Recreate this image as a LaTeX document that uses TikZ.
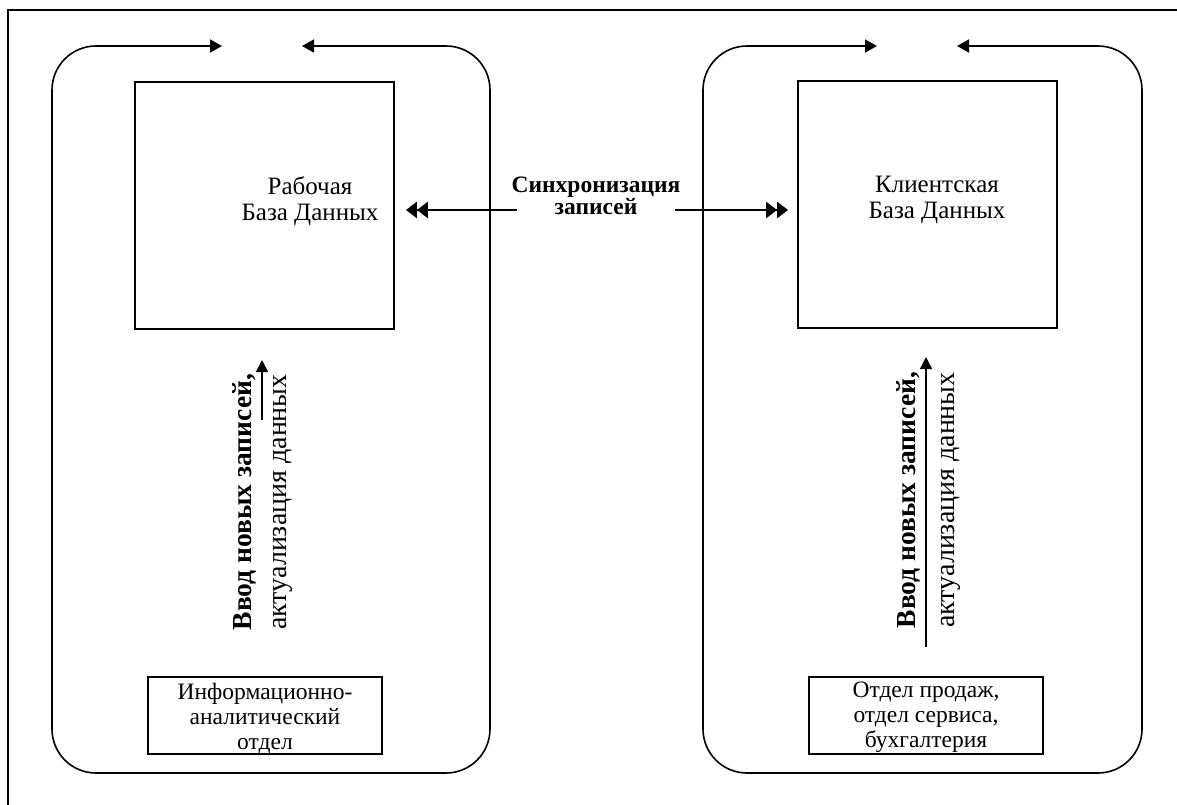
\documentclass[tikz,border=0pt]{standalone}
\usepackage{fontspec}
\setmainfont{Liberation Serif}
\usetikzlibrary{arrows.meta}
\begin{document}
\begin{tikzpicture}[x=1pt,y=-1pt,
  frame/.style={line width=1.6pt},
  loop/.style={line width=1.6pt, rounded corners=44pt,
    {Triangle[length=12pt,width=13pt]}-{Triangle[length=12pt,width=13pt]}},
  dbbox/.style={draw, line width=1.8pt, minimum width=259pt, minimum height=247pt, inner sep=0pt},
  deptbox/.style={draw, line width=1.6pt, minimum width=234pt, minimum height=77pt, inner sep=0pt},
  title/.style={font=\fontsize{25}{26}\selectfont, align=center},
  depttext/.style={font=\fontsize{23.5}{25}\selectfont, align=center},
  synctext/.style={font=\bfseries\fontsize{23.5}{22.5}\selectfont, align=center},
  vtext/.style={rotate=90, font=\fontsize{28}{30}\selectfont, inner sep=0pt},
  vbold/.style={vtext, font=\bfseries\fontsize{27.5}{30}\selectfont},
  syncarrow/.style={line width=2.4pt,
    -{Triangle[length=11pt,width=16pt] Triangle[length=11pt,width=16pt]}},
  uparrow/.style={line width=1.5pt, -{Triangle[length=12pt,width=12pt]}}
]
\useasboundingbox (0,0) rectangle (1177,805);

% page frame (top and left edges)
\draw[frame] (8,805) -- (8,10) -- (1177,10);

% left and right department loops with the two inward arrows at the top
\draw[loop] (302,46) -- (490,46) -- (490,773) -- (52,773) -- (52,46) -- (222,46);
\draw[loop] (957,46) -- (1142,46) -- (1142,773) -- (703,773) -- (703,46) -- (877,46);

% database boxes
\node[dbbox] (db1) at (264.5,205.5) {};
\node[dbbox] (db2) at (927.5,204.5) {};
\node[title] (t1) at (310,201) {Рабочая\\База Данных};
\node[title] (t2) at (937,200) {Клиентская\\База Данных};

% department boxes
\node[deptbox] (d1) at (265,715.5) {};
\node[deptbox] (d2) at (926,715.5) {};
\node[depttext] (dt1) at (265,719) {Информационно-\\аналитический\\отдел};
\node[depttext] (dt2) at (926,717) {Отдел продаж,\\отдел сервиса,\\бухгалтерия};

% synchronisation between the two databases
\node[synctext] (sync) at (596,196) {Синхронизация\\записей};
\coordinate (sl) at (517,210);
\coordinate (sr) at (675,210);
\draw[syncarrow, shorten >=11pt] (sl) -- (db1.east |- sl);
\draw[syncarrow, shorten >=9pt] (sr) -- (db2.west |- sr);

% data entry arrows
\coordinate (a1) at (262,420);
\coordinate (a2) at (926,647);
\draw[uparrow] (a1) -- (262,360);
\draw[uparrow] (a2) -- (926,357);
\node[vbold] (v1a) at (244,502) {Ввод новых записей,};
\node[vtext] (v1b) at (283,502) {актуализация данных};
\node[vbold] (v2a) at (908,500) {Ввод новых записей,};
\node[vtext] (v2b) at (951,500) {актуализация данных};
\end{tikzpicture}
\end{document}
